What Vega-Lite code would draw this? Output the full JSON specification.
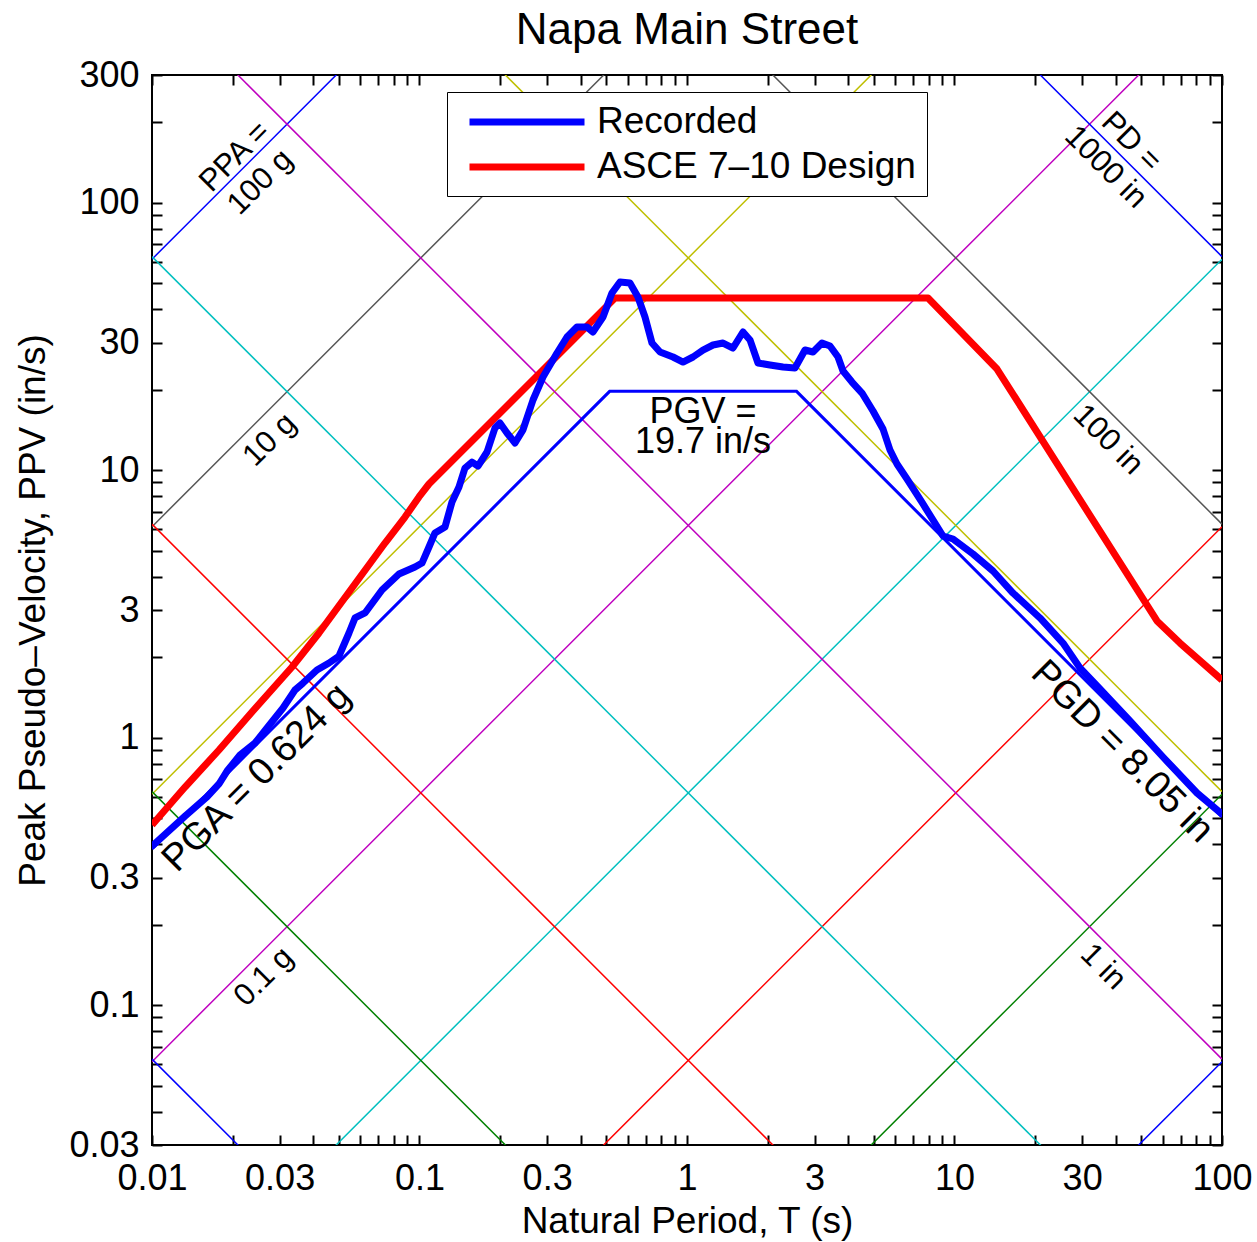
{
  "$schema": "https://vega.github.io/schema/vega-lite/v6.json",
  "width": 1070,
  "height": 1070,
  "autosize": {"type": "none"},
  "padding": {"left": 152, "top": 75, "right": 35, "bottom": 97},
  "background": "white",
  "title": {"text": "Napa Main Street", "fontSize": 44, "font": "Liberation Sans", "fontWeight": "normal", "color": "black", "anchor": "middle", "offset": 4},
  "config": {
    "font": "Liberation Sans",
    "view": {"stroke": "black", "strokeWidth": 2},
    "axis": {"domain": false, "grid": false, "tickColor": "black", "tickWidth": 2, "tickSize": 10, "offset": -10, "labelFont": "Liberation Sans", "labelFontSize": 36, "labelColor": "black", "labelOverlap": false, "labelFlush": false, "labelBound": false, "titleFont": "Liberation Sans", "titleFontSize": 37, "titleFontWeight": "normal", "titleColor": "black"}
  },
  "datasets": {
    "grid": [
      {"line": "PPA 100 g", "T": 0.01, "V": 61.45}, {"line": "PPA 100 g", "T": 100, "V": 614500},
      {"line": "PPA 10 g", "T": 0.01, "V": 6.145}, {"line": "PPA 10 g", "T": 100, "V": 61450},
      {"line": "PPA 1 g", "T": 0.01, "V": 0.6145}, {"line": "PPA 1 g", "T": 100, "V": 6145},
      {"line": "PPA 0.1 g", "T": 0.01, "V": 0.06145}, {"line": "PPA 0.1 g", "T": 100, "V": 614.5},
      {"line": "PPA 0.01 g", "T": 0.01, "V": 0.006145}, {"line": "PPA 0.01 g", "T": 100, "V": 61.45},
      {"line": "PPA 0.001 g", "T": 0.01, "V": 0.0006145}, {"line": "PPA 0.001 g", "T": 100, "V": 6.145},
      {"line": "PPA 0.0001 g", "T": 0.01, "V": 0.00006145}, {"line": "PPA 0.0001 g", "T": 100, "V": 0.6145},
      {"line": "PPA 0.00001 g", "T": 0.01, "V": 0.000006145}, {"line": "PPA 0.00001 g", "T": 100, "V": 0.06145},
      {"line": "PD 1000 in", "T": 0.01, "V": 628300}, {"line": "PD 1000 in", "T": 100, "V": 62.83},
      {"line": "PD 100 in", "T": 0.01, "V": 62830}, {"line": "PD 100 in", "T": 100, "V": 6.283},
      {"line": "PD 10 in", "T": 0.01, "V": 6283}, {"line": "PD 10 in", "T": 100, "V": 0.6283},
      {"line": "PD 1 in", "T": 0.01, "V": 628.3}, {"line": "PD 1 in", "T": 100, "V": 0.06283},
      {"line": "PD 0.1 in", "T": 0.01, "V": 62.83}, {"line": "PD 0.1 in", "T": 100, "V": 0.006283},
      {"line": "PD 0.01 in", "T": 0.01, "V": 6.283}, {"line": "PD 0.01 in", "T": 100, "V": 0.0006283},
      {"line": "PD 0.001 in", "T": 0.01, "V": 0.6283}, {"line": "PD 0.001 in", "T": 100, "V": 0.00006283},
      {"line": "PD 0.0001 in", "T": 0.01, "V": 0.06283}, {"line": "PD 0.0001 in", "T": 100, "V": 0.000006283}
    ],
    "trap": [
      {"T": 0.01, "V": 0.3835}, {"T": 0.5138, "V": 19.7}, {"T": 2.5675, "V": 19.7}, {"T": 100, "V": 0.5058}
    ],
    "design": [
      {"series": "ASCE 7–10 Design", "T": 0.01, "V": 0.4714},
      {"series": "ASCE 7–10 Design", "T": 0.01329, "V": 0.6536},
      {"series": "ASCE 7–10 Design", "T": 0.0178, "V": 0.899},
      {"series": "ASCE 7–10 Design", "T": 0.02365, "V": 1.247},
      {"series": "ASCE 7–10 Design", "T": 0.03338, "V": 1.837},
      {"series": "ASCE 7–10 Design", "T": 0.0421, "V": 2.461},
      {"series": "ASCE 7–10 Design", "T": 0.05594, "V": 3.625},
      {"series": "ASCE 7–10 Design", "T": 0.0743, "V": 5.34},
      {"series": "ASCE 7–10 Design", "T": 0.08826, "V": 6.679},
      {"series": "ASCE 7–10 Design", "T": 0.09956, "V": 7.936},
      {"series": "ASCE 7–10 Design", "T": 0.1085, "V": 8.875},
      {"series": "ASCE 7–10 Design", "T": 0.538, "V": 44.0},
      {"series": "ASCE 7–10 Design", "T": 7.961, "V": 44.0},
      {"series": "ASCE 7–10 Design", "T": 14.42, "V": 23.88},
      {"series": "ASCE 7–10 Design", "T": 57.15, "V": 2.729},
      {"series": "ASCE 7–10 Design", "T": 69.66, "V": 2.258},
      {"series": "ASCE 7–10 Design", "T": 100, "V": 1.642}
    ],
    "recorded": [
      {"series": "Recorded", "T": 0.01, "V": 0.393},
      {"series": "Recorded", "T": 0.01329, "V": 0.509},
      {"series": "Recorded", "T": 0.01606, "V": 0.6},
      {"series": "Recorded", "T": 0.0178, "V": 0.671},
      {"series": "Recorded", "T": 0.01908, "V": 0.75},
      {"series": "Recorded", "T": 0.02133, "V": 0.861},
      {"series": "Recorded", "T": 0.02427, "V": 0.955},
      {"series": "Recorded", "T": 0.02691, "V": 1.086},
      {"series": "Recorded", "T": 0.03088, "V": 1.29},
      {"series": "Recorded", "T": 0.03424, "V": 1.507},
      {"series": "Recorded", "T": 0.03669, "V": 1.6},
      {"series": "Recorded", "T": 0.04137, "V": 1.79},
      {"series": "Recorded", "T": 0.04588, "V": 1.901},
      {"series": "Recorded", "T": 0.05002, "V": 2.019},
      {"series": "Recorded", "T": 0.0545, "V": 2.461},
      {"series": "Recorded", "T": 0.05739, "V": 2.801},
      {"series": "Recorded", "T": 0.06256, "V": 2.924},
      {"series": "Recorded", "T": 0.07241, "V": 3.563},
      {"series": "Recorded", "T": 0.08382, "V": 4.09},
      {"series": "Recorded", "T": 0.0962, "V": 4.343},
      {"series": "Recorded", "T": 0.10218, "V": 4.495},
      {"series": "Recorded", "T": 0.10851, "V": 5.159},
      {"series": "Recorded", "T": 0.11426, "V": 5.821},
      {"series": "Recorded", "T": 0.12453, "V": 6.13},
      {"series": "Recorded", "T": 0.13226, "V": 7.602},
      {"series": "Recorded", "T": 0.14047, "V": 8.649},
      {"series": "Recorded", "T": 0.14792, "V": 10.18},
      {"series": "Recorded", "T": 0.15711, "V": 10.72},
      {"series": "Recorded", "T": 0.16544, "V": 10.36},
      {"series": "Recorded", "T": 0.17883, "V": 11.69},
      {"series": "Recorded", "T": 0.19149, "V": 14.37},
      {"series": "Recorded", "T": 0.1999, "V": 15.01},
      {"series": "Recorded", "T": 0.21238, "V": 13.77},
      {"series": "Recorded", "T": 0.22753, "V": 12.63},
      {"series": "Recorded", "T": 0.24366, "V": 14.13},
      {"series": "Recorded", "T": 0.26565, "V": 18.29},
      {"series": "Recorded", "T": 0.28946, "V": 22.29},
      {"series": "Recorded", "T": 0.32666, "V": 27.41},
      {"series": "Recorded", "T": 0.35591, "V": 31.46},
      {"series": "Recorded", "T": 0.38785, "V": 34.28},
      {"series": "Recorded", "T": 0.42261, "V": 34.28},
      {"series": "Recorded", "T": 0.445, "V": 32.84},
      {"series": "Recorded", "T": 0.48529, "V": 37.37},
      {"series": "Recorded", "T": 0.52417, "V": 45.94},
      {"series": "Recorded", "T": 0.56176, "V": 50.5},
      {"series": "Recorded", "T": 0.61196, "V": 50.07},
      {"series": "Recorded", "T": 0.65559, "V": 44.38},
      {"series": "Recorded", "T": 0.69657, "V": 37.37},
      {"series": "Recorded", "T": 0.73977, "V": 29.87},
      {"series": "Recorded", "T": 0.79284, "V": 27.64},
      {"series": "Recorded", "T": 0.88649, "V": 26.48},
      {"series": "Recorded", "T": 0.96616, "V": 25.36},
      {"series": "Recorded", "T": 1.053, "V": 26.48},
      {"series": "Recorded", "T": 1.1476, "V": 28.12},
      {"series": "Recorded", "T": 1.251, "V": 29.36},
      {"series": "Recorded", "T": 1.3633, "V": 29.87},
      {"series": "Recorded", "T": 1.4858, "V": 28.61},
      {"series": "Recorded", "T": 1.6194, "V": 32.84},
      {"series": "Recorded", "T": 1.7198, "V": 30.66},
      {"series": "Recorded", "T": 1.8424, "V": 25.15},
      {"series": "Recorded", "T": 2.0429, "V": 24.72},
      {"series": "Recorded", "T": 2.285, "V": 24.29},
      {"series": "Recorded", "T": 2.5333, "V": 24.09},
      {"series": "Recorded", "T": 2.7615, "V": 28.12},
      {"series": "Recorded", "T": 2.9583, "V": 27.64},
      {"series": "Recorded", "T": 3.1963, "V": 29.87},
      {"series": "Recorded", "T": 3.4242, "V": 29.11},
      {"series": "Recorded", "T": 3.6689, "V": 26.48},
      {"series": "Recorded", "T": 3.8306, "V": 23.47},
      {"series": "Recorded", "T": 4.1373, "V": 21.35},
      {"series": "Recorded", "T": 4.5109, "V": 19.42},
      {"series": "Recorded", "T": 4.9584, "V": 16.64},
      {"series": "Recorded", "T": 5.404, "V": 14.25},
      {"series": "Recorded", "T": 5.7394, "V": 11.89},
      {"series": "Recorded", "T": 6.0951, "V": 10.54},
      {"series": "Recorded", "T": 6.6443, "V": 9.264},
      {"series": "Recorded", "T": 7.624, "V": 7.472},
      {"series": "Recorded", "T": 9.0598, "V": 5.673},
      {"series": "Recorded", "T": 9.8716, "V": 5.528},
      {"series": "Recorded", "T": 11.728, "V": 4.858},
      {"series": "Recorded", "T": 13.929, "V": 4.197},
      {"series": "Recorded", "T": 16.545, "V": 3.472},
      {"series": "Recorded", "T": 20.874, "V": 2.801},
      {"series": "Recorded", "T": 25.445, "V": 2.258},
      {"series": "Recorded", "T": 29.455, "V": 1.821},
      {"series": "Recorded", "T": 34.986, "V": 1.52},
      {"series": "Recorded", "T": 45.295, "V": 1.154},
      {"series": "Recorded", "T": 60.169, "V": 0.8464},
      {"series": "Recorded", "T": 80.635, "V": 0.621},
      {"series": "Recorded", "T": 100, "V": 0.5182}
    ],
    "labels": [
      {"kind": "acc", "T": 0.02043, "V": 148.1, "txt": "PPA =\n100 g"},
      {"kind": "acc", "T": 0.02761, "V": 12.96, "txt": "10 g"},
      {"kind": "acc", "T": 0.02622, "V": 0.1274, "txt": "0.1 g"},
      {"kind": "disp", "T": 45.68, "V": 168.5, "txt": "PD =\n1000 in"},
      {"kind": "disp", "T": 37.48, "V": 12.96, "txt": "100 in"},
      {"kind": "disp", "T": 35.9, "V": 0.1388, "txt": "1 in"},
      {"kind": "pga", "T": 0.02469, "V": 0.7065, "txt": "PGA = 0.624 g"},
      {"kind": "pgd", "T": 42.28, "V": 0.8837, "txt": "PGD = 8.05 in"},
      {"kind": "pgv", "T": 1.1476, "V": 16.56, "txt": "PGV =\n19.7 in/s"}
    ]
  },
  "layer": [
    {
      "layer": [
        {
          "data": {"name": "grid"},
          "mark": {"type": "line", "clip": true, "strokeWidth": 1.5},
          "encoding": {
            "x": {"field": "T", "type": "quantitative", "scale": {"type": "log", "domain": [0.01, 100], "nice": false},
              "axis": {"orient": "bottom", "values": [0.01,0.02,0.03,0.04,0.05,0.06,0.07,0.08,0.09,0.1,0.2,0.3,0.4,0.5,0.6,0.7,0.8,0.9,1,2,3,4,5,6,7,8,9,10,20,30,40,50,60,70,80,90,100],
                "labelExpr": "indexof([0.01,0.03,0.1,0.3,1,3,10,30,100], datum.value) >= 0 ? '' + datum.value : ''",
                "labelPadding": 16, "title": "Natural Period, T (s)", "titleY": 97, "titleBaseline": "alphabetic"}},
            "y": {"field": "V", "type": "quantitative", "scale": {"type": "log", "domain": [0.03, 300], "nice": false},
              "axis": {"orient": "left", "values": [0.03,0.04,0.05,0.06,0.07,0.08,0.09,0.1,0.2,0.3,0.4,0.5,0.6,0.7,0.8,0.9,1,2,3,4,5,6,7,8,9,10,20,30,40,50,60,70,80,90,100,200,300],
                "labelExpr": "indexof([0.03,0.1,0.3,1,3,10,30,100,300], datum.value) >= 0 ? '' + datum.value : ''",
                "labelPadding": 13, "title": "Peak Pseudo–Velocity, PPV (in/s)", "titleX": -118, "titleBaseline": "alphabetic"}},
            "stroke": {"field": "line", "type": "nominal", "legend": null,
              "scale": {
                "domain": ["PPA 100 g","PPA 10 g","PPA 1 g","PPA 0.1 g","PPA 0.01 g","PPA 0.001 g","PPA 0.0001 g","PPA 0.00001 g","PD 1000 in","PD 100 in","PD 10 in","PD 1 in","PD 0.1 in","PD 0.01 in","PD 0.001 in","PD 0.0001 in"],
                "range": ["#0000ff","#555555","#bfbf00","#bf00bf","#00bfbf","#ff0000","#008000","#0000ff","#0000ff","#555555","#bfbf00","#bf00bf","#00bfbf","#ff0000","#008000","#0000ff"]}}
          }
        },
        {
          "data": {"name": "trap"},
          "mark": {"type": "line", "clip": true, "color": "#0000ff", "strokeWidth": 3},
          "encoding": {
            "x": {"field": "T", "type": "quantitative"},
            "y": {"field": "V", "type": "quantitative"}
          }
        },
        {
          "data": {"name": "design"},
          "mark": {"type": "line", "clip": true, "strokeWidth": 7, "strokeJoin": "round"},
          "encoding": {
            "x": {"field": "T", "type": "quantitative"},
            "y": {"field": "V", "type": "quantitative"},
            "color": {"field": "series", "type": "nominal",
              "scale": {"domain": ["Recorded", "ASCE 7–10 Design"], "range": ["#0000ff", "#ff0000"]},
              "legend": {"orient": "none", "legendX": 295, "legendY": 17, "title": null, "symbolType": "M-3.71,0H3.71", "symbolSize": 961, "symbolStrokeWidth": 7, "symbolOffset": 50, "labelFontSize": 37, "labelFont": "Liberation Sans", "labelColor": "black", "labelOffset": 51, "labelLimit": 700, "padding": 11, "rowPadding": 8, "strokeColor": "black", "fillColor": "white"}}
          }
        },
        {
          "data": {"name": "recorded"},
          "mark": {"type": "line", "clip": true, "strokeWidth": 7, "strokeJoin": "round"},
          "encoding": {
            "x": {"field": "T", "type": "quantitative"},
            "y": {"field": "V", "type": "quantitative"},
            "color": {"field": "series", "type": "nominal"}
          }
        },
        {
          "data": {"name": "labels"},
          "transform": [{"filter": "datum.kind == 'acc'"}],
          "mark": {"type": "text", "angle": 315, "fontSize": 31, "lineBreak": "\n", "lineHeight": 36, "baseline": "middle", "align": "center", "color": "black", "font": "Liberation Sans"},
          "encoding": {
            "x": {"field": "T", "type": "quantitative"},
            "y": {"field": "V", "type": "quantitative"},
            "text": {"field": "txt"}
          }
        },
        {
          "data": {"name": "labels"},
          "transform": [{"filter": "datum.kind == 'disp'"}],
          "mark": {"type": "text", "angle": 45, "fontSize": 31, "lineBreak": "\n", "lineHeight": 36, "baseline": "middle", "align": "center", "color": "black", "font": "Liberation Sans"},
          "encoding": {
            "x": {"field": "T", "type": "quantitative"},
            "y": {"field": "V", "type": "quantitative"},
            "text": {"field": "txt"}
          }
        },
        {
          "data": {"name": "labels"},
          "transform": [{"filter": "datum.kind == 'pga'"}],
          "mark": {"type": "text", "angle": 315, "fontSize": 38, "baseline": "middle", "align": "center", "color": "black", "font": "Liberation Sans"},
          "encoding": {
            "x": {"field": "T", "type": "quantitative"},
            "y": {"field": "V", "type": "quantitative"},
            "text": {"field": "txt"}
          }
        },
        {
          "data": {"name": "labels"},
          "transform": [{"filter": "datum.kind == 'pgd'"}],
          "mark": {"type": "text", "angle": 45, "fontSize": 38, "baseline": "middle", "align": "center", "color": "black", "font": "Liberation Sans"},
          "encoding": {
            "x": {"field": "T", "type": "quantitative"},
            "y": {"field": "V", "type": "quantitative"},
            "text": {"field": "txt"}
          }
        },
        {
          "data": {"name": "labels"},
          "transform": [{"filter": "datum.kind == 'pgv'"}],
          "mark": {"type": "text", "fontSize": 36, "lineBreak": "\n", "lineHeight": 30, "baseline": "middle", "align": "center", "color": "black", "font": "Liberation Sans"},
          "encoding": {
            "x": {"field": "T", "type": "quantitative"},
            "y": {"field": "V", "type": "quantitative"},
            "text": {"field": "txt"}
          }
        }
      ]
    },
    {
      "data": {"name": "trap"},
      "mark": {"type": "point", "opacity": 0},
      "encoding": {
        "x": {"field": "T", "type": "quantitative", "scale": {"type": "log", "domain": [0.01, 100], "nice": false},
          "axis": {"orient": "top", "values": [0.01,0.02,0.03,0.04,0.05,0.06,0.07,0.08,0.09,0.1,0.2,0.3,0.4,0.5,0.6,0.7,0.8,0.9,1,2,3,4,5,6,7,8,9,10,20,30,40,50,60,70,80,90,100], "labels": false, "title": null}},
        "y": {"field": "V", "type": "quantitative", "scale": {"type": "log", "domain": [0.03, 300], "nice": false},
          "axis": {"orient": "right", "values": [0.03,0.04,0.05,0.06,0.07,0.08,0.09,0.1,0.2,0.3,0.4,0.5,0.6,0.7,0.8,0.9,1,2,3,4,5,6,7,8,9,10,20,30,40,50,60,70,80,90,100,200,300], "labels": false, "title": null}}
      }
    }
  ],
  "resolve": {"axis": {"x": "independent", "y": "independent"}}
}
